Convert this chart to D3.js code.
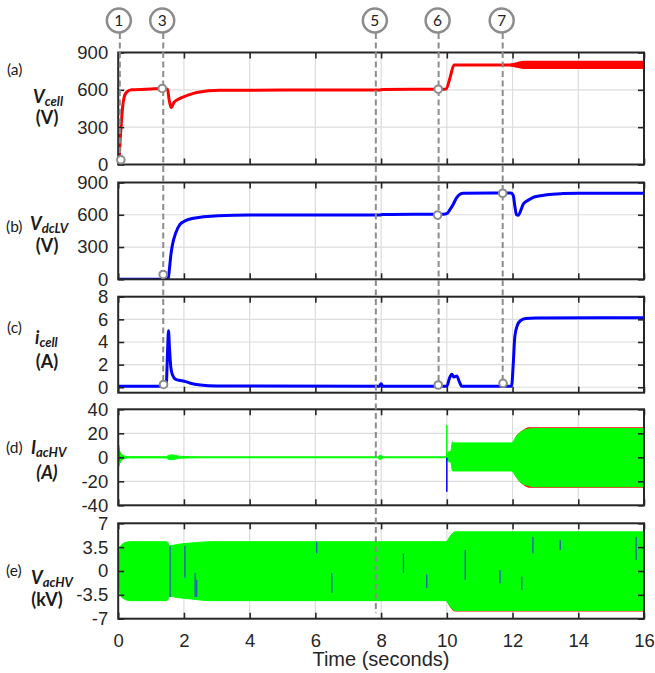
<!DOCTYPE html>
<html>
<head>
<meta charset="utf-8">
<script src="https://cdn.jsdelivr.net/npm/d3@7/dist/d3.min.js"></script>
<style>
    body { margin: 0; background: #fff; }
    svg { display: block; }
    .tick text { font-family: "Liberation Sans", Arial, sans-serif; fill: #262626; }
    .lbl { font-family: Lato, "Open Sans", sans-serif; fill: #1a1a1a; }
</style>
</head>
<body>
<div id="chart"></div>
<script>
// ---- values ----
const timeTicks = [0, 2, 4, 6, 8, 10, 12, 14, 16];

// (a) Vcell
const vcellT = [0, 0.03, 0.06, 0.1, 0.13, 0.18, 0.25, 0.4, 1.0, 1.35, 1.5, 1.55, 1.61, 1.7, 1.8, 1.93, 2.1, 2.39, 3.1, 5, 7.95, 8.05, 9.8, 9.98, 10.1, 10.22, 12.0];
const vcellV = [0, 50, 200, 350, 450, 540, 580, 600, 607, 610, 605, 520, 457, 500, 520, 538, 555, 579, 597, 598, 598, 603, 605, 607, 700, 800, 800];
const vcellBandT = [11.95, 12.1, 12.35, 16];
const vcellBandHi = [800, 808, 821, 821];
const vcellBandLo = [800, 792, 779, 779];

// (b) VdcLV
const vdcT = [0, 1.52, 1.56, 1.6, 1.65, 1.75, 1.88, 2.05, 2.29, 2.6, 3.05, 4, 6, 7.95, 8.05, 9.9, 10.0, 10.1, 10.2, 10.3, 10.4, 10.5, 11.95, 12.02, 12.07, 12.12, 12.17, 12.33, 12.5, 12.63, 12.8, 13.04, 13.54, 14, 16];
const vdcV = [0, 0, 100, 220, 320, 430, 510, 545, 568, 582, 592, 597, 598, 598, 603, 605, 610, 650, 701, 760, 790, 800, 802, 780, 680, 600, 595, 701, 740, 762, 775, 787, 797, 800, 800];

// (c) icell
const icellT = [0, 1.46, 1.5, 1.53, 1.56, 1.6, 1.65, 1.75, 1.9, 2.05, 2.2, 2.5, 3, 7.95, 8.0, 8.05, 10.0, 10.08, 10.15, 10.22, 10.3, 10.38, 10.45, 11.97, 12.02, 12.07, 12.15, 12.25, 12.4, 12.7, 16];
const icellV = [0.1, 0.1, 3, 5.0, 3.5, 1.8, 1.1, 0.7, 0.6, 0.5, 0.35, 0.2, 0.12, 0.1, 0.3, 0.1, 0.1, 0.8, 1.15, 0.9, 1.0, 0.5, 0.1, 0.1, 2.0, 4.5, 5.5, 5.9, 6.08, 6.12, 6.15];

// (d) IacHV envelope
const iacT  = [0, 0.01, 0.05, 0.1, 0.2, 0.35, 1.45, 1.55, 1.65, 1.75, 1.9, 2.5, 7.9, 7.97, 8.02, 8.1, 9.98, 10.02, 10.06, 10.12, 10.17, 10.2, 11.97, 12.1, 12.25, 12.45, 12.7, 16];
const iacHi = [0, 8, 5, 2.5, 1, 0.5, 0.5, 1.8, 2, 1.5, 0.8, 0.4, 0.4, 2, 1, 0.4, 0.4, 3, 4.7, 5, 13, 12, 12, 17, 21, 23.5, 24, 24];
const iacLo = [0, -8, -5, -2.5, -1, -0.5, -0.5, -1.8, -2, -1.5, -0.8, -0.4, -0.4, -2, -1, -0.4, -0.4, -3, -3.7, -4, -11.4, -11.4, -11.4, -16, -21, -23.5, -24.5, -24.5];
const iacRedT  = [12.1, 12.3, 12.5, 16];
const iacRedHi = [17.5, 22.5, 25, 25];
const iacRedLo = [-16.5, -22.5, -25.3, -25.3];
const iacGreenSpikeT = [10.0];
const iacGreenSpikeLo = [0];
const iacGreenSpikeHi = [27];
const iacBlueSpikeT = [0.01, 10.0];
const iacBlueSpikeLo = [-3, -28.7];
const iacBlueSpikeHi = [10, 0];

// (e) VacHV envelope
const vacT  = [0, 0.02, 0.05, 0.1, 0.2, 0.35, 1.48, 1.52, 1.56, 1.8, 2.2, 2.8, 9.98, 10.1, 10.25, 16];
const vacHi = [0, 2.2, 3.2, 3.8, 4.15, 4.3, 4.3, 4.1, 3.7, 3.9, 4.1, 4.3, 4.3, 5.1, 5.75, 5.75];
const vacLo = [0, -2.2, -3.2, -3.8, -4.15, -4.35, -4.35, -4.1, -3.7, -3.9, -4.1, -4.35, -4.35, -5.2, -5.8, -5.8];
const vacRedT  = [10.0, 10.25, 16];
const vacRedLo = [-4.45, -5.95, -5.95];
const vacStreakT  = [1.58, 2.03, 2.34, 2.39, 6.04, 6.5, 8.68, 9.39, 10.56, 11.62, 12.28, 12.62, 13.45, 15.76];
const vacStreakLo = [-3.8, -1.0, -3.8, -3.8, 2.6, -3.2, -0.3, -2.5, -1.3, -1.8, -2.8, 2.6, 3.1, 1.6];
const vacStreakHi = [3.6, 3.7, -0.3, -1.3, 4.3, -0.3, 2.6, -0.5, 3.1, 0.1, -0.8, 5.0, 4.5, 5.0];

// event markers
const eventLabels = ["1", "3", "5", "6", "7"];
const eventTimes = [0.05, 1.37, 7.84, 9.75, 11.7];
const eventEndPanel = ["a", "c", "e", "c", "c"];
const eventEndValue = [38, 0.25, -6.2, 0.2, 0.35];

const markerPanel = ["a", "a", "a", "b", "b", "b", "c", "c", "c"];
const markerTimes = [0.08, 1.34, 9.74, 1.37, 9.72, 11.7, 1.38, 9.74, 11.71];
const markerValues = [38, 611, 605, 45, 597, 800, 0.25, 0.2, 0.35];

// ---- layout ----
const W = 655, H = 673;
const x = d3.scaleLinear().domain([0, 16]).range([118.2, 644]);

const panels = [
    {key: "a", domain: [0, 900],   ticks: [0, 300, 600, 900],   top: 52.5,  bottom: 164.5},
    {key: "b", domain: [0, 900],   ticks: [0, 300, 600, 900],   top: 182.5, bottom: 279.3},
    {key: "c", domain: [-0.48, 8], ticks: [0, 2, 4, 6, 8],      top: 296.7, bottom: 392.7},
    {key: "d", domain: [-40, 40],  ticks: [-40, -20, 0, 20, 40], top: 409.3, bottom: 505.3},
    {key: "e", domain: [-7, 7],    ticks: [-7, -3.5, 0, 3.5, 7], top: 523.3, bottom: 618.7}
];
panels.forEach(p => { p.y = d3.scaleLinear().domain(p.domain).range([p.bottom, p.top]); });
const panelByKey = Object.fromEntries(panels.map(p => [p.key, p]));

const svg = d3.select("#chart").append("svg")
    .attr("width", W)
    .attr("height", H);

const defs = svg.append("defs");

const zip = (t, a, b) => t.map((d, i) => ({t: d, v: a[i], v2: b ? b[i] : null}));

// panel frames: grid first, then data, then axes
panels.forEach(p => {
    const g = svg.append("g").attr("class", "panel-" + p.key);

    defs.append("clipPath").attr("id", "clip-" + p.key)
        .append("rect")
        .attr("x", x.range()[0]).attr("y", p.top)
        .attr("width", x.range()[1] - x.range()[0])
        .attr("height", p.bottom - p.top);

    // grid
    g.append("g").selectAll("line")
        .data(timeTicks.slice(1, -1))
        .enter().append("line")
        .attr("x1", d => x(d)).attr("x2", d => x(d))
        .attr("y1", p.top).attr("y2", p.bottom)
        .attr("stroke", "#dcdcdc").attr("stroke-width", 1.2);
    g.append("g").selectAll("line")
        .data(p.ticks.filter(d => d !== p.domain[0] && d !== p.domain[1]))
        .enter().append("line")
        .attr("x1", x.range()[0]).attr("x2", x.range()[1])
        .attr("y1", d => p.y(d)).attr("y2", d => p.y(d))
        .attr("stroke", "#dcdcdc").attr("stroke-width", 1.2);

    p.plot = g.append("g").attr("clip-path", `url(#clip-${p.key})`);
    p.g = g;
});

// ---- data marks ----
function drawLine(p, t, v, color, w) {
    const line = d3.line().x(d => x(d.t)).y(d => p.y(d.v)).curve(d3.curveMonotoneX);
    p.plot.append("path")
        .datum(zip(t, v))
        .attr("d", line)
        .attr("fill", "none")
        .attr("stroke", color)
        .attr("stroke-width", w)
        .attr("stroke-linejoin", "round");
}

function drawBand(p, t, hi, lo, color, sw) {
    const area = d3.area().x(d => x(d.t)).y0(d => p.y(d.v2)).y1(d => p.y(d.v)).curve(d3.curveMonotoneX);
    p.plot.append("path")
        .datum(zip(t, hi, lo))
        .attr("d", area)
        .attr("fill", color)
        .attr("stroke", color)
        .attr("stroke-width", sw);
}

function drawSegments(p, t, lo, hi, color, w) {
    p.plot.append("g").selectAll("line")
        .data(zip(t, lo, hi))
        .enter().append("line")
        .attr("x1", d => x(d.t)).attr("x2", d => x(d.t))
        .attr("y1", d => p.y(d.v)).attr("y2", d => p.y(d.v2))
        .attr("stroke", color).attr("stroke-width", w);
}

// (a)
drawLine(panelByKey.a, vcellT, vcellV, "#ff0000", 3);
drawBand(panelByKey.a, vcellBandT, vcellBandHi, vcellBandLo, "#ff0000", 3);
// (b)
drawLine(panelByKey.b, vdcT, vdcV, "#0000ff", 3);
// (c)
drawLine(panelByKey.c, icellT, icellV, "#0000ff", 3);
// (d)
drawBand(panelByKey.d, iacRedT, iacRedHi, iacRedLo, "#ff0000", 0);
drawBand(panelByKey.d, iacT, iacHi, iacLo, "#00ff00", 1);
drawSegments(panelByKey.d, iacBlueSpikeT, iacBlueSpikeLo, iacBlueSpikeHi, "#0000ff", 1.5);
drawSegments(panelByKey.d, iacGreenSpikeT, iacGreenSpikeLo, iacGreenSpikeHi, "#00ff00", 1.5);
// (e)
drawBand(panelByKey.e, vacRedT, vacRedT.map(() => 0), vacRedLo, "#ff0000", 0);
drawBand(panelByKey.e, vacT, vacHi, vacLo, "#00ff00", 1);
drawSegments(panelByKey.e, vacStreakT, vacStreakLo, vacStreakHi, "#2a4fc8", 1.2);

// ---- axes and box ----
const fmt = d => String(d);
panels.forEach((p, i) => {
    const last = i === panels.length - 1;
    const g = p.g;

    const left = g.append("g")
        .attr("transform", `translate(${x.range()[0]},0)`)
        .call(d3.axisLeft(p.y).tickValues(p.ticks).tickSize(-6).tickPadding(10).tickFormat(fmt));
    const right = g.append("g")
        .attr("transform", `translate(${x.range()[1]},0)`)
        .call(d3.axisRight(p.y).tickValues(p.ticks).tickSize(-6).tickFormat(""));
    const top = g.append("g")
        .attr("transform", `translate(0,${p.top})`)
        .call(d3.axisTop(x).tickValues(timeTicks).tickSize(-6).tickFormat(""));
    const bottom = g.append("g")
        .attr("transform", `translate(0,${p.bottom})`)
        .call(d3.axisBottom(x).tickValues(timeTicks).tickSize(-6).tickPadding(15)
            .tickFormat(last ? fmt : ""));

    [left, right, top, bottom].forEach(a => {
        a.select(".domain").remove();
        a.selectAll(".tick line").attr("stroke", "#262626").attr("stroke-width", 1.6);
        a.selectAll(".tick text").style("font-size", "18.5px");
    });

    g.append("rect")
        .attr("x", x.range()[0]).attr("y", p.top)
        .attr("width", x.range()[1] - x.range()[0])
        .attr("height", p.bottom - p.top)
        .attr("fill", "none")
        .attr("stroke", "#262626")
        .attr("stroke-width", 2);
});

svg.append("text")
    .attr("x", 381).attr("y", 666)
    .attr("text-anchor", "middle")
    .style("font-family", '"Liberation Sans", Arial, sans-serif')
    .style("font-size", "20px")
    .style("fill", "#262626")
    .text("Time (seconds)");

// ---- y labels ----
const panelLetters = ["(a)", "(b)", "(c)", "(d)", "(e)"];
const symbolMain = ["V", "V", "i", "I", "V"];
const symbolSub = ["cell", "dcLV", "cell", "acHV", "acHV"];
const unitLabels = ["(V)", "(V)", "(A)", "(A)", "(kV)"];
const unitItalic = [false, false, false, true, false];

const labelPos = [
    {lx: 7, ly: 75,  sx: 33, sy: 103, uy: 124},
    {lx: 6, ly: 232, sx: 30, sy: 230, uy: 252},
    {lx: 7, ly: 333, sx: 35, sy: 344, uy: 368},
    {lx: 6, ly: 453, sx: 31, sy: 454, uy: 479},
    {lx: 6, ly: 576, sx: 31, sy: 584, uy: 606}
];

labelPos.forEach((pos, i) => {
    svg.append("text").attr("class", "lbl")
        .attr("x", pos.lx).attr("y", pos.ly)
        .style("font-size", "15.5px")
        .text(panelLetters[i]);

    const s = svg.append("text").attr("class", "lbl")
        .attr("x", pos.sx).attr("y", pos.sy)
        .style("font-weight", "bold").style("font-style", "italic");
    s.append("tspan").style("font-size", "18px").text(symbolMain[i]);
    s.append("tspan").style("font-size", "13px").attr("dy", 3).text(symbolSub[i]);

    svg.append("text").attr("class", "lbl")
        .attr("x", 47).attr("y", pos.uy)
        .attr("text-anchor", "middle")
        .style("font-weight", "bold")
        .style("font-style", unitItalic[i] ? "italic" : "normal")
        .style("font-size", "18px")
        .text(unitLabels[i]);
});

// ---- event guides ----
const guideColor = "#8c8c8c";
const eventGroup = svg.append("g").attr("class", "events");

eventLabels.forEach((lab, i) => {
    const p = panelByKey[eventEndPanel[i]];
    eventGroup.append("line")
        .attr("x1", x(eventTimes[i])).attr("x2", x(eventTimes[i]))
        .attr("y1", 33).attr("y2", p.y(eventEndValue[i]))
        .attr("stroke", guideColor)
        .attr("stroke-width", 2)
        .attr("stroke-dasharray", "6,3.5");
});

markerPanel.forEach((k, i) => {
    const p = panelByKey[k];
    eventGroup.append("circle")
        .attr("cx", x(markerTimes[i])).attr("cy", p.y(markerValues[i]))
        .attr("r", 3.8)
        .attr("fill", "#fff")
        .attr("stroke", guideColor)
        .attr("stroke-width", 2);
});

eventLabels.forEach((lab, i) => {
    const cx = x(eventTimes[i]) - 1;
    eventGroup.append("circle")
        .attr("cx", cx).attr("cy", 20.5)
        .attr("r", 12)
        .attr("fill", "#fff")
        .attr("stroke", guideColor)
        .attr("stroke-width", 2.5);
    eventGroup.append("text")
        .attr("x", cx).attr("y", 26)
        .attr("text-anchor", "middle")
        .style("font-family", "Lato, sans-serif")
        .style("font-size", "15.5px")
        .style("fill", "#222")
        .text(lab);
});
</script>
</body>
</html>
